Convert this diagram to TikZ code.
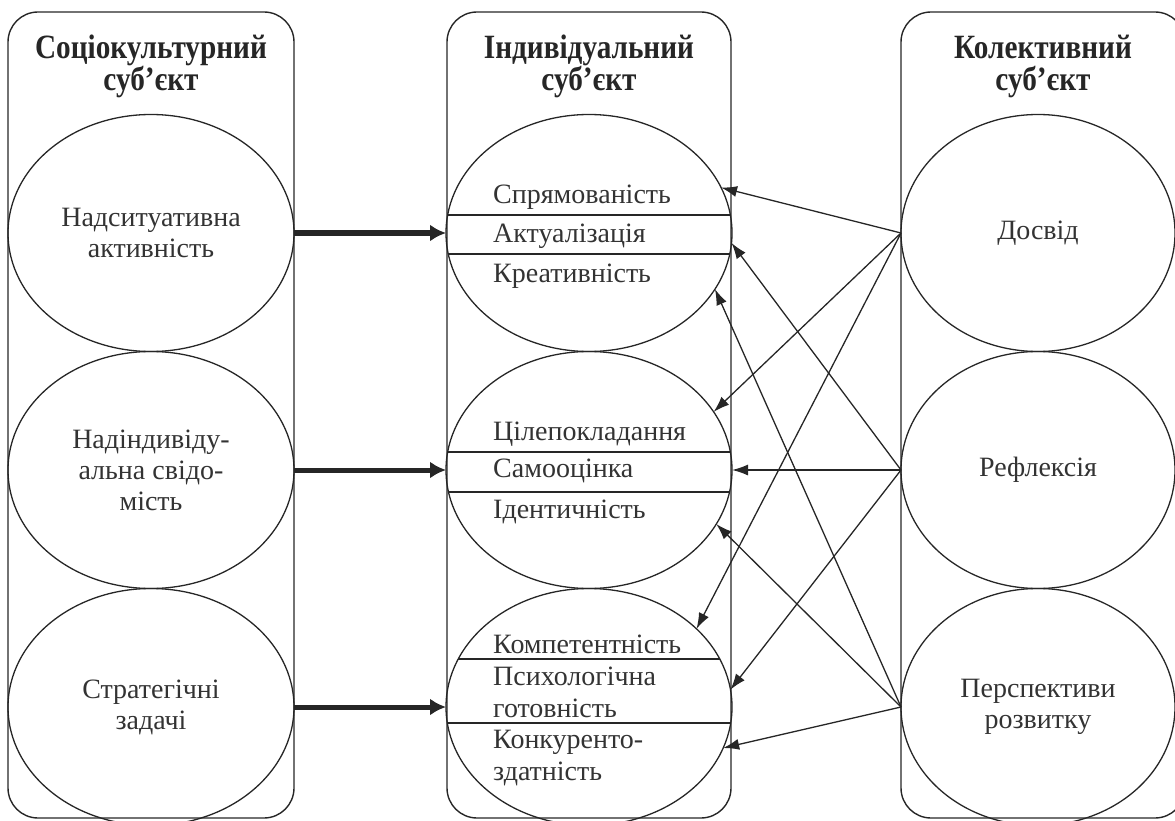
\documentclass[tikz,border=0pt]{standalone}
\usepackage{fontspec}
\setmainfont{Liberation Serif}
\newfontfamily\titlefont[FakeStretch=0.86]{Liberation Serif}
\usetikzlibrary{arrows.meta,shapes.geometric,positioning}

\begin{document}
\begin{tikzpicture}[x=1pt,y=-1pt,
  subj/.style={draw=black!85,line width=1.4pt,rounded corners=30pt,minimum height=806pt,inner sep=0pt},
  ttl/.style={align=center,text=black!85,font=\titlefont\bfseries\fontsize{34}{32}\selectfont},
  ell/.style={ellipse,draw=black!85,line width=1.3pt,minimum height=237pt,inner sep=0pt,outer sep=0pt,align=center,text=black!80,font=\fontsize{28}{31}\selectfont},
  item/.style={anchor=base west,inner sep=0pt,text=black!80,font=\fontsize{28}{31.5}\selectfont},
  sep/.style={draw=black!85,line width=1.3pt},
  arr/.style={draw=black!85,line width=1.3pt,-{Latex[length=16pt,width=11pt]}},
  bigarr/.style={draw=black!85,line width=5pt,-{Latex[length=16pt,width=17pt]}}]
  \useasboundingbox (0,0) rectangle (1175,821);
  % three subjects
  \node[subj,minimum width=286pt] (soc) at (151,415) {};
  \node[subj,minimum width=284pt] (ind) at (589,415) {};
  \node[subj,minimum width=284pt] (kol) at (1043,415) {};
  \node[ttl] (soct) at (151,66) {Соціокультурний\\суб’єкт};
  \node[ttl] (indt) at (589,66) {Індивідуальний\\суб’єкт};
  \node[ttl] (kolt) at (1043,66) {Колективний\\суб’єкт};
  % left column
  \node[ell,minimum width=286pt] (soc1) at (151,233) {Надситуативна\\активність};
  \node[ell,minimum width=286pt] (soc2) at (151,470) {Надіндивіду-\\альна свідо-\\мість};
  \node[ell,minimum width=286pt] (soc3) at (151,707) {Стратегічні\\задачі};
  % middle column
  \node[ell,minimum width=286pt] (ind1) at (589,233) {};
  \node[ell,minimum width=286pt] (ind2) at (589,470) {};
  \node[ell,minimum width=286pt] (ind3) at (589,707) {};
  \begin{scope}
    \clip (589,233) ellipse [x radius=143pt,y radius=118.5pt];
    \draw[sep] (440,215) -- (740,215) (440,254) -- (740,254);
  \end{scope}
  \begin{scope}
    \clip (589,470) ellipse [x radius=143pt,y radius=118.5pt];
    \draw[sep] (440,452) -- (740,452) (440,492) -- (740,492);
  \end{scope}
  \begin{scope}
    \clip (589,707) ellipse [x radius=143pt,y radius=118.5pt];
    \draw[sep] (440,659) -- (740,659) (440,723) -- (740,723);
  \end{scope}
  \node[item] (spr) at (493,204) {Спрямованість};
  \node[item] (akt) at (493,242) {Актуалізація};
  \node[item] (kre) at (493,282) {Креативність};
  \node[item] (cil) at (493,440) {Цілепокладання};
  \node[item] (sam) at (493,477) {Самооцінка};
  \node[item] (ide) at (493,518) {Ідентичність};
  \node[item] (kom) at (493,653) {Компетентність};
  \node[item,align=left] (psy) at (493,717) {Психологічна\\готовність};
  \node[item,align=left] (kon) at (493,780) {Конкуренто-\\здатність};
  % right column
  \node[ell,minimum width=274pt] (dos) at (1038,233) {Досвід};
  \node[ell,minimum width=274pt] (ref) at (1038,470) {Рефлексія};
  \node[ell,minimum width=274pt] (per) at (1038,707) {Перспективи\\розвитку};
  % arrows
  \draw[bigarr] (soc1.east) -- (ind1.west);
  \draw[bigarr] (soc2.east) -- (ind2.west);
  \draw[bigarr] (soc3.east) -- (ind3.west);
  \draw[arr] (dos.west) -- (ind1.19);
  \draw[arr] (dos.west) -- (ind2.25);
  \draw[arr] (dos.west) -- (ind3.36);
  \draw[arr] (ref.west) -- (ind1.-4);
  \draw[arr] (ref.west) -- (ind2.east);
  \draw[arr] (ref.west) -- (ind3.7);
  \draw[arr] (per.west) -- (ind1.-24);
  \draw[arr] (per.west) -- (ind2.-23);
  \draw[arr] (per.west) -- (ind3.-17);
\end{tikzpicture}
\end{document}
